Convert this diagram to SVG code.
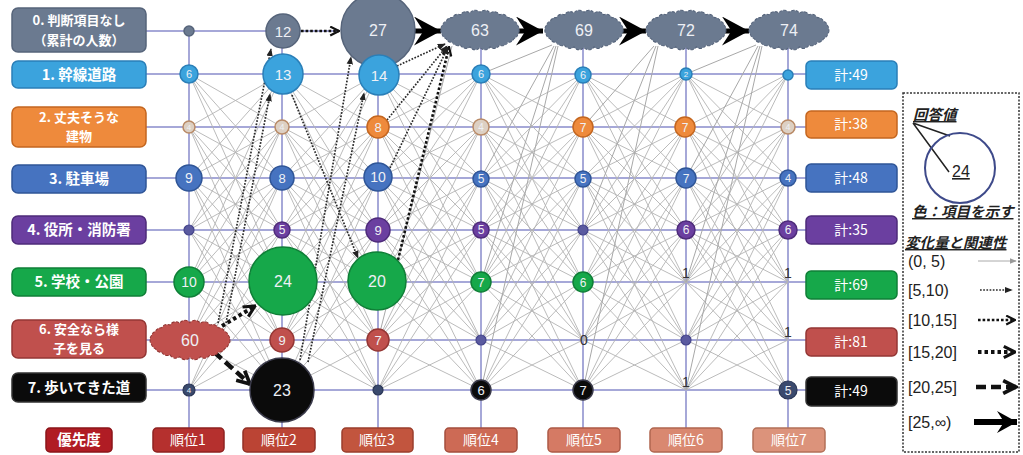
<svg xmlns="http://www.w3.org/2000/svg" xmlns:xlink="http://www.w3.org/1999/xlink" width="1023" height="455" viewBox="0 0 1023 455">
<style>
.grid{stroke:#a6a8d8;stroke-width:2;fill:none}
.mesh{stroke:#b3b3b3;stroke-width:0.9;fill:none;vector-effect:non-scaling-stroke}
.c0{stroke:#a8a8a8;stroke-width:1;fill:none}
.c1{stroke:#2a2a2a;stroke-width:1.7;stroke-dasharray:1.7 1.5;fill:none;marker-end:url(#m1)}
.c2{stroke:#111;stroke-width:2.6;stroke-dasharray:2.6 2;fill:none;marker-end:url(#m2)}
.c3{stroke:#111;stroke-width:4;stroke-dasharray:3.5 3;fill:none;marker-end:url(#m3)}
.c4{stroke:#111;stroke-width:4.5;stroke-dasharray:10 5;fill:none;marker-end:url(#m4)}
.c5{stroke:#000;stroke-width:5;fill:none;marker-end:url(#m5)}
.lbl{font-family:"Noto Sans CJK JP",sans-serif;font-size:14.5px;font-weight:bold;fill:#fff;text-anchor:middle}
.lb2{font-family:"Noto Sans CJK JP",sans-serif;font-size:13px;font-weight:bold;fill:#fff;text-anchor:middle}
.lbn{font-family:"Noto Sans CJK JP",sans-serif;font-size:14px;fill:#fff;text-anchor:middle}
.num{font-family:"Liberation Sans","Open Sans",sans-serif;fill:#eef0f5;text-anchor:middle}
.dk{font-family:"Liberation Sans","Open Sans",sans-serif;fill:#333;text-anchor:middle;font-size:14px}
.lg{font-family:"Noto Sans CJK JP",sans-serif;font-size:14.5px;font-weight:bold;font-style:italic;fill:#222;text-decoration:underline}
.lr{font-family:"Liberation Sans","Open Sans",sans-serif;font-size:16px;fill:#222}
.g0{fill:#6b7a90;stroke:#56647a;stroke-width:1.5}
.g1{fill:#3ba3dd;stroke:#2a7fb8;stroke-width:1.5}
.g2{fill:#ee8a3c;stroke:#c4661f;stroke-width:1.5}
.g2p{fill:#ddd0c3;stroke:#b98a66;stroke-width:1.5}
.g3{fill:#4673c0;stroke:#2f5597;stroke-width:1.5}
.g4{fill:#6b3fa0;stroke:#4e2b7a;stroke-width:1.5}
.g4s{fill:#5a5aa0;stroke:#44448a;stroke-width:1.2}
.g5{fill:#16a84a;stroke:#0f7f37;stroke-width:1.5}
.g6{fill:#c0504d;stroke:#943634;stroke-width:1.5}
.g7{fill:#0b0b0b;stroke:#3a3a4a;stroke-width:1.5}
.g7s{fill:#3a4a6e;stroke:#2a3656;stroke-width:1.2}
.cl0{fill:#6b7a90;stroke:#55637a;stroke-width:1;stroke-dasharray:3 1.5}
.cl6{fill:#c0504d;stroke:#8e3432;stroke-width:1;stroke-dasharray:3 1.5}
.box{stroke-width:1.5}
</style>
<defs>
<marker id="m0" viewBox="0 0 10 10" refX="9" refY="5" markerWidth="7" markerHeight="7" markerUnits="userSpaceOnUse" orient="auto"><path d="M0,1L10,5L0,9z" fill="#999"/></marker>
<marker id="m1" viewBox="0 0 10 10" refX="9" refY="5" markerWidth="8" markerHeight="8" markerUnits="userSpaceOnUse" orient="auto"><path d="M0,1L10,5L0,9z" fill="#222"/></marker>
<marker id="m2" viewBox="0 0 10 10" refX="9" refY="5" markerWidth="11" markerHeight="11" markerUnits="userSpaceOnUse" orient="auto"><path d="M1,1L9,5L1,9" fill="none" stroke="#111" stroke-width="2"/></marker>
<marker id="m3" viewBox="0 0 10 10" refX="9" refY="5" markerWidth="14" markerHeight="14" markerUnits="userSpaceOnUse" orient="auto"><path d="M1,1L9,5L1,9" fill="none" stroke="#111" stroke-width="2.2"/></marker>
<marker id="m4" viewBox="0 0 10 10" refX="9" refY="5" markerWidth="16" markerHeight="16" markerUnits="userSpaceOnUse" orient="auto"><path d="M1,1L9,5L1,9" fill="none" stroke="#111" stroke-width="2.3"/></marker>
<marker id="m5" viewBox="0 0 10 10" refX="10" refY="5" markerWidth="27" markerHeight="29" markerUnits="userSpaceOnUse" orient="auto" preserveAspectRatio="none"><path d="M0,0L10,5L0,10L3.5,5z" fill="#000"/></marker>
<marker id="m5s" viewBox="0 0 10 10" refX="10" refY="5" markerWidth="20" markerHeight="22" markerUnits="userSpaceOnUse" orient="auto" preserveAspectRatio="none"><path d="M0,0L10,5L0,10L3.5,5z" fill="#000"/></marker>
<path id="cloud" d="M38,0A6 6 0 0 1 36.7,4.4A6 6 0 0 1 32.9,8.5A6 6 0 0 1 26.9,12A6 6 0 0 1 19,14.7A6 6 0 0 1 9.8,16.4A6 6 0 0 1 0,17A6 6 0 0 1 -9.8,16.4A6 6 0 0 1 -19,14.7A6 6 0 0 1 -26.9,12A6 6 0 0 1 -32.9,8.5A6 6 0 0 1 -36.7,4.4A6 6 0 0 1 -38,0A6 6 0 0 1 -36.7,-4.4A6 6 0 0 1 -32.9,-8.5A6 6 0 0 1 -26.9,-12A6 6 0 0 1 -19,-14.7A6 6 0 0 1 -9.8,-16.4A6 6 0 0 1 0,-17A6 6 0 0 1 9.8,-16.4A6 6 0 0 1 19,-14.7A6 6 0 0 1 26.9,-12A6 6 0 0 1 32.9,-8.5A6 6 0 0 1 36.7,-4.4A6 6 0 0 1 38,0Z"/>
<path id="mesh" class="mesh" d="M0 74L100 127M0 74L100 178M0 74L100 230M0 74L100 282M0 127L100 74M0 127L100 178M0 127L100 230M0 127L100 282M0 127L100 340M0 178L100 74M0 178L100 127M0 178L100 230M0 178L100 282M0 178L100 340M0 178L100 390M0 230L100 74M0 230L100 127M0 230L100 178M0 230L100 282M0 230L100 340M0 230L100 390M0 282L100 74M0 282L100 127M0 282L100 178M0 282L100 230M0 282L100 340M0 282L100 390M0 340L100 127M0 340L100 178M0 340L100 230M0 340L100 282M0 340L100 390M0 390L100 178M0 390L100 230M0 390L100 282M0 390L100 340"/>
</defs>
<rect width="1023" height="455" fill="#fff"/>

<g id="grid">
<path class="grid" d="M146 31H340M146 74H806M146 127H806M146 178H806M146 230H806M146 282H806M146 340H806M146 390H806"/>
<path class="grid" d="M189 31V428M282 31V428M378 31V428M481 31V428M583 31V428M686 31V428M788 31V428"/>
</g>

<g id="connectors">
<use xlink:href="#mesh" transform="translate(189,0) scale(0.93,1)"/>
<use xlink:href="#mesh" transform="translate(282,0) scale(0.96,1)"/>
<use xlink:href="#mesh" transform="translate(378,0) scale(1.03,1)"/>
<use xlink:href="#mesh" transform="translate(481,0) scale(1.02,1)"/>
<use xlink:href="#mesh" transform="translate(583,0) scale(1.03,1)"/>
<use xlink:href="#mesh" transform="translate(686,0) scale(1.02,1)"/>
<path class="c0" d="M481 74L552 45M481 178L554 46M481 282L556 46M481 390L558 46M583 127L654 46M583 230L656 46M583 390L658 46M686 74L756 45M686 178L758 46M686 282L760 46M686 390L762 46M378 340L452 46"/>
<line class="c2" x1="301" y1="31" x2="339" y2="31"/>
<line class="c5" x1="413" y1="31" x2="441" y2="31"/>
<line class="c5" x1="516" y1="31" x2="543" y2="31"/>
<line class="c5" x1="619" y1="31" x2="646" y2="31"/>
<line class="c5" x1="722" y1="31" x2="749" y2="31"/>
<line class="c1" x1="218" y1="323" x2="271" y2="49"/>
<line class="c1" x1="226" y1="323" x2="270" y2="94"/>
<line class="c3" x1="222" y1="326" x2="255" y2="306"/>
<line class="c4" x1="214" y1="352" x2="250" y2="384"/>
<line class="c1" x1="300" y1="360" x2="351" y2="57"/>
<line class="c1" x1="308" y1="362" x2="364" y2="93"/>
<line class="c1" x1="292" y1="95" x2="358" y2="258"/>
<line class="c2" x1="398" y1="260" x2="449" y2="47"/>
<line class="c1" x1="390" y1="168" x2="448" y2="47"/>
<line class="c1" x1="387" y1="120" x2="447" y2="46"/>
<line class="c1" x1="397" y1="66" x2="445" y2="44"/>
</g>

<g id="label-rows">
<g id="L0"><rect class="box" x="12" y="8" width="134" height="44" rx="6" fill="#6b7a90" stroke="#56647a"/><text class="lb2" x="79" y="25">0. 判断項目なし</text><text class="lb2" x="79" y="45">（累計の人数）</text></g>
<g id="L1"><rect class="box" x="12" y="61" width="134" height="27" rx="6" fill="#3ba3dd" stroke="#2a7fb8"/><text class="lbl" x="79" y="80">1. 幹線道路</text></g>
<g id="L2"><rect class="box" x="12" y="107" width="134" height="40" rx="6" fill="#ee8a3c" stroke="#c4661f"/><text class="lb2" x="79" y="122">2. 丈夫そうな</text><text class="lb2" x="79" y="141">建物</text></g>
<g id="L3"><rect class="box" x="12" y="165" width="134" height="28" rx="6" fill="#4673c0" stroke="#2f5597"/><text class="lbl" x="79" y="184">3. 駐車場</text></g>
<g id="L4"><rect class="box" x="12" y="216" width="134" height="28" rx="6" fill="#6b3fa0" stroke="#4e2b7a"/><text class="lbl" x="79" y="235">4. 役所・消防署</text></g>
<g id="L5"><rect class="box" x="12" y="268" width="134" height="28" rx="6" fill="#16a84a" stroke="#0f7f37"/><text class="lbl" x="79" y="287">5. 学校・公園</text></g>
<g id="L6"><rect class="box" x="12" y="320" width="134" height="38" rx="6" fill="#c0504d" stroke="#943634"/><text class="lb2" x="79" y="334">6. 安全なら様</text><text class="lb2" x="79" y="353">子を見る</text></g>
<g id="L7"><rect class="box" x="12" y="373" width="134" height="29" rx="6" fill="#0b0b0b" stroke="#333"/><text class="lbl" x="79" y="393">7. 歩いてきた道</text></g>
</g>

<g id="label-totals">
<g id="T1"><rect class="box" x="806" y="61" width="91" height="28" rx="5" fill="#3ba3dd" stroke="#2a7fb8"/><text class="lbn" x="851" y="80">計:49</text></g>
<g id="T2"><rect class="box" x="806" y="111" width="91" height="27" rx="5" fill="#ee8a3c" stroke="#c4661f"/><text class="lbn" x="851" y="129">計:38</text></g>
<g id="T3"><rect class="box" x="806" y="164" width="91" height="28" rx="5" fill="#4673c0" stroke="#2f5597"/><text class="lbn" x="851" y="183">計:48</text></g>
<g id="T4"><rect class="box" x="806" y="216" width="91" height="28" rx="5" fill="#6b3fa0" stroke="#4e2b7a"/><text class="lbn" x="851" y="235">計:35</text></g>
<g id="T5"><rect class="box" x="806" y="271" width="91" height="28" rx="5" fill="#16a84a" stroke="#0f7f37"/><text class="lbn" x="851" y="290">計:69</text></g>
<g id="T6"><rect class="box" x="806" y="328" width="91" height="28" rx="5" fill="#c0504d" stroke="#943634"/><text class="lbn" x="851" y="347">計:81</text></g>
<g id="T7"><rect class="box" x="806" y="377" width="91" height="29" rx="5" fill="#0b0b0b" stroke="#333"/><text class="lbn" x="851" y="396">計:49</text></g>
</g>

<g id="label-ranks">
<g id="P0"><rect class="box" x="46" y="428" width="66" height="24" rx="4" fill="#b01c24" stroke="#8a1419"/><text class="lbl" x="79" y="445">優先度</text></g>
<g id="P1"><rect class="box" x="153" y="428" width="71" height="24" rx="4" fill="#b5302e" stroke="#8e2221"/><text class="lbn" x="188" y="445">順位1</text></g>
<g id="P2"><rect class="box" x="243" y="428" width="72" height="24" rx="4" fill="#bb4434" stroke="#933126"/><text class="lbn" x="279" y="445">順位2</text></g>
<g id="P3"><rect class="box" x="342" y="428" width="71" height="24" rx="4" fill="#c2553e" stroke="#9a3e2c"/><text class="lbn" x="377" y="445">順位3</text></g>
<g id="P4"><rect class="box" x="445" y="428" width="72" height="24" rx="4" fill="#cd6a55" stroke="#a44e3d"/><text class="lbn" x="481" y="445">順位4</text></g>
<g id="P5"><rect class="box" x="548" y="428" width="72" height="24" rx="4" fill="#d57a64" stroke="#ad5a46"/><text class="lbn" x="584" y="445">順位5</text></g>
<g id="P6"><rect class="box" x="650" y="428" width="72" height="24" rx="4" fill="#d98870" stroke="#b0664f"/><text class="lbn" x="686" y="445">順位6</text></g>
<g id="P7"><rect class="box" x="753" y="428" width="72" height="24" rx="4" fill="#dc937b" stroke="#b37058"/><text class="lbn" x="789" y="445">順位7</text></g>
</g>

<g id="nodes">
<g id="c1r0"><circle class="g0" cx="189" cy="31" r="5"/></g>
<g id="c1r1"><circle class="g1" cx="189" cy="74" r="9"/><text class="num" x="189" y="78" font-size="11">6</text></g>
<g id="c1r2"><circle class="g2p" cx="189" cy="127" r="6"/><text class="num" x="189" y="130" font-size="8" fill="#777">4</text></g>
<g id="c1r3"><circle class="g3" cx="189" cy="178" r="13"/><text class="num" x="189" y="183" font-size="14">9</text></g>
<g id="c1r4"><circle class="g4s" cx="189" cy="230" r="5"/></g>
<g id="c1r5"><circle class="g5" cx="189" cy="282" r="15"/><text class="num" x="189" y="287" font-size="14">10</text></g>
<g id="c1r6"><use xlink:href="#cloud" class="cl6" transform="translate(190,340) scale(1.05,1.02)"/><text class="num" x="190" y="346" font-size="16">60</text></g>
<g id="c1r7"><circle class="g7s" cx="189" cy="390" r="6"/><text class="num" x="189" y="393" font-size="8">4</text></g>

<g id="c2r0"><circle class="g0" cx="283" cy="31" r="17"/><text class="num" x="283" y="37" font-size="15">12</text></g>
<g id="c2r1"><circle class="g1" cx="283" cy="74" r="20"/><text class="num" x="283" y="80" font-size="15">13</text></g>
<g id="c2r2"><circle class="g2p" cx="282" cy="127" r="7"/><text class="num" x="282" y="130" font-size="9" fill="#777">4</text></g>
<g id="c2r3"><circle class="g3" cx="282" cy="178" r="12"/><text class="num" x="282" y="183" font-size="13">8</text></g>
<g id="c2r4"><circle class="g4" cx="282" cy="230" r="8"/><text class="num" x="282" y="234" font-size="12">5</text></g>
<g id="c2r5"><circle class="g5" cx="283" cy="281" r="34"/><text class="num" x="283" y="287" font-size="16">24</text></g>
<g id="c2r6"><circle class="g6" cx="282" cy="340" r="12"/><text class="num" x="282" y="345" font-size="13">9</text></g>
<g id="c2r7"><circle class="g7" cx="282" cy="390" r="32"/><text class="num" x="282" y="396" font-size="16">23</text></g>

<g id="c3r0"><circle class="g0" cx="378" cy="30" r="37"/><text class="num" x="378" y="36" font-size="16">27</text></g>
<g id="c3r1"><circle class="g1" cx="379" cy="75" r="20"/><text class="num" x="379" y="81" font-size="15">14</text></g>
<g id="c3r2"><circle class="g2" cx="378" cy="127" r="11"/><text class="num" x="378" y="132" font-size="13">8</text></g>
<g id="c3r3"><circle class="g3" cx="378" cy="177" r="14"/><text class="num" x="378" y="182" font-size="14">10</text></g>
<g id="c3r4"><circle class="g4" cx="378" cy="230" r="12"/><text class="num" x="378" y="235" font-size="13">9</text></g>
<g id="c3r5"><circle class="g5" cx="377" cy="281" r="29"/><text class="num" x="377" y="287" font-size="16">20</text></g>
<g id="c3r6"><circle class="g6" cx="378" cy="340" r="11"/><text class="num" x="378" y="345" font-size="13">7</text></g>
<g id="c3r7"><circle class="g7s" cx="378" cy="390" r="5"/></g>

<g id="c4r0"><use xlink:href="#cloud" class="cl0" transform="translate(480,30) scale(1.03,1.03)"/><text class="num" x="480" y="36" font-size="16">63</text></g>
<g id="c4r1"><circle class="g1" cx="481" cy="74" r="9"/><text class="num" x="481" y="78" font-size="11">6</text></g>
<g id="c4r2"><circle class="g2p" cx="481" cy="127" r="8"/><text class="num" x="481" y="131" font-size="10" fill="#777">4</text></g>
<g id="c4r3"><circle class="g3" cx="481" cy="179" r="8"/><text class="num" x="481" y="183" font-size="12">5</text></g>
<g id="c4r4"><circle class="g4" cx="481" cy="230" r="8"/><text class="num" x="481" y="234" font-size="12">5</text></g>
<g id="c4r5"><circle class="g5" cx="481" cy="282" r="10"/><text class="num" x="481" y="287" font-size="13">7</text></g>
<g id="c4r6"><circle class="g4s" cx="481" cy="340" r="5"/></g>
<g id="c4r7"><circle class="g7" cx="481" cy="390" r="10"/><text class="num" x="481" y="395" font-size="13">6</text></g>

<g id="c5r0"><use xlink:href="#cloud" class="cl0" transform="translate(584,30) scale(1.03,1.03)"/><text class="num" x="584" y="36" font-size="16">69</text></g>
<g id="c5r1"><circle class="g1" cx="583" cy="75" r="8"/><text class="num" x="583" y="79" font-size="11">6</text></g>
<g id="c5r2"><circle class="g2" cx="583" cy="127" r="10"/><text class="num" x="583" y="132" font-size="12">7</text></g>
<g id="c5r3"><circle class="g3" cx="583" cy="179" r="8"/><text class="num" x="583" y="183" font-size="12">5</text></g>
<g id="c5r4"><circle class="g4s" cx="583" cy="230" r="5"/></g>
<g id="c5r5"><circle class="g5" cx="583" cy="282" r="10"/><text class="num" x="583" y="287" font-size="12">6</text></g>
<g id="c5r6"><text class="dk" x="584" y="345">0</text></g>
<g id="c5r7"><circle class="g7" cx="583" cy="390" r="10"/><text class="num" x="583" y="395" font-size="13">7</text></g>

<g id="c6r0"><use xlink:href="#cloud" class="cl0" transform="translate(686,30) scale(1.05,1.03)"/><text class="num" x="686" y="36" font-size="16">72</text></g>
<g id="c6r1"><circle class="g1" cx="686" cy="74" r="6"/><text class="num" x="686" y="77" font-size="8">2</text></g>
<g id="c6r2"><circle class="g2" cx="685" cy="127" r="10"/><text class="num" x="685" y="132" font-size="12">7</text></g>
<g id="c6r3"><circle class="g3" cx="686" cy="178" r="10"/><text class="num" x="686" y="183" font-size="12">7</text></g>
<g id="c6r4"><circle class="g4" cx="686" cy="230" r="9"/><text class="num" x="686" y="234" font-size="12">6</text></g>
<g id="c6r5"><text class="dk" x="686" y="278">1</text></g>
<g id="c6r6"><circle class="g4s" cx="686" cy="340" r="5"/></g>
<g id="c6r7"><text class="dk" x="686" y="387">1</text></g>

<g id="c7r0"><use xlink:href="#cloud" class="cl0" transform="translate(789,30) scale(1.05,1.03)"/><text class="num" x="789" y="36" font-size="16">74</text></g>
<g id="c7r1"><circle class="g1" cx="788" cy="75" r="5"/></g>
<g id="c7r2"><circle class="g2p" cx="788" cy="127" r="7"/><text class="num" x="788" y="130" font-size="9" fill="#777">4</text></g>
<g id="c7r3"><circle class="g3" cx="788" cy="178" r="8"/><text class="num" x="788" y="182" font-size="11">4</text></g>
<g id="c7r4"><circle class="g4" cx="788" cy="230" r="9"/><text class="num" x="788" y="234" font-size="12">6</text></g>
<g id="c7r5"><text class="dk" x="788" y="278">1</text></g>
<g id="c7r6"><text class="dk" x="788" y="337">1</text></g>
<g id="c7r7"><circle class="g7s" cx="788" cy="390" r="9"/><text class="num" x="788" y="395" font-size="12">5</text></g>
</g>

<g id="legend">
<rect x="903" y="93" width="116" height="359" fill="#fff" stroke="#333" stroke-width="1.5" stroke-dasharray="2 1.5"/>
<text class="lg" x="913" y="120" font-size="16">回答値</text>
<path d="M913 123L950 136M913 123L949 172" stroke="#222" stroke-width="1.5" fill="none"/>
<circle cx="960" cy="168" r="35" fill="none" stroke="#3e4a8a" stroke-width="2"/>
<text class="lr" x="952" y="177" font-size="15" text-decoration="underline">24</text>
<text class="lg" x="912" y="217">色：項目を示す</text>
<text class="lg" x="905" y="248">変化量と関連性</text>
<text class="lr" x="908" y="267">(0, 5)</text>
<text class="lr" x="908" y="296">[5,10)</text>
<text class="lr" x="908" y="326">[10,15]</text>
<text class="lr" x="908" y="358">[15,20]</text>
<text class="lr" x="908" y="393">[20,25]</text>
<text class="lr" x="908" y="428">[25,∞)</text>
<line x1="978" y1="261" x2="1016" y2="261" stroke="#aaa" stroke-width="1" marker-end="url(#m0)"/>
<line class="c1" x1="980" y1="290" x2="1012" y2="290"/>
<line class="c2" x1="978" y1="320" x2="1015" y2="320"/>
<line class="c3" x1="978" y1="352" x2="1015" y2="352"/>
<line class="c4" x1="976" y1="387" x2="1016" y2="387"/>
<line x1="974" y1="422" x2="1017" y2="422" stroke="#000" stroke-width="6" marker-end="url(#m5s)"/>
</g>
</svg>
